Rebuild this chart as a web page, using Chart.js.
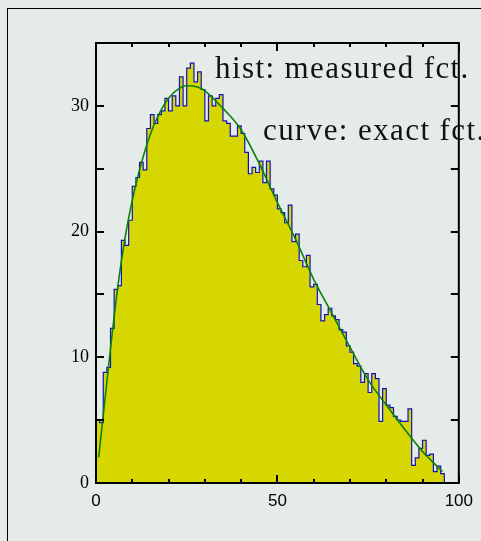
<!DOCTYPE html>
<html>
<head>
<meta charset="utf-8">
<script src="https://cdn.jsdelivr.net/npm/chart.js@4.4.0/dist/chart.umd.min.js"></script>
<style>
  html, body { margin: 0; padding: 0; background: #e4ebe9; overflow: hidden; }
  #wrap { position: relative; width: 481px; height: 541px; }
</style>
</head>
<body>
<div id="wrap"><canvas id="chart" width="481" height="541"></canvas></div>
<script>
// --- Data ---
const binStart = 0;
const binWidth = 1;
// measured histogram, one value per bin (bins 96..99 are empty)
const counts = [
  5.0, 4.8, 8.8, 9.2, 12.3, 15.4, 15.7, 19.3, 18.9, 20.9,
  23.6, 24.3, 25.5, 24.9, 28.2, 29.3, 28.6, 29.3, 29.6, 30.6,
  29.6, 30.8, 30.0, 32.3, 30.0, 33.0, 33.4, 31.9, 32.7, 31.3,
  28.8, 30.8, 30.0, 30.6, 30.9, 28.8, 28.6, 27.6, 27.6, 28.4,
  27.8, 26.3, 24.6, 25.1, 24.7, 25.6, 23.9, 25.6, 23.4, 22.9,
  21.8, 21.5, 20.7, 22.1, 19.2, 19.8, 17.7, 17.2, 18.1, 15.6,
  15.8, 14.2, 12.9, 13.4, 13.9, 13.3, 13.0, 12.2, 12.0, 10.9,
  10.4, 9.5, 9.3, 8.0, 8.7, 7.2, 8.7, 8.3, 4.9, 7.5,
  6.2, 6.0, 5.3, 5.0, 4.9, 4.9, 5.9, 1.4, 2.0, 2.75,
  3.4, 2.2, 2.3, 0.9, 1.35, 0.75
];
// exact function, sampled
const curveX = [0.75, 2, 4, 6, 8, 10, 12, 14, 16, 18, 20, 22, 25, 28, 30, 35, 40, 45, 50, 55, 60, 65, 70, 75, 80, 85, 90, 95.5];
const curveY = [2.05, 5.4, 10.7, 15.6, 19.5, 22.5, 24.9, 26.9, 28.5, 29.7, 30.6, 31.2, 31.6, 31.5, 31.2, 29.8, 28.1, 25.4, 22.3, 19.4, 16.2, 13.5, 10.8, 8.2, 6.2, 4.3, 2.5, 0.9];

const xTickLabels = [0, 50, 100];
const yTickLabels = [0, 10, 20, 30];
const notes = ['hist: measured fct.', 'curve: exact fct.'];

// --- Build datasets ---
// each point is a bin's low edge; the step holds its value until the next edge
const histPoints = counts.map((v, i) => ({ x: binStart + i * binWidth, y: v }));
// close the last bin down to zero
histPoints.push({ x: binStart + counts.length * binWidth, y: 0 });
const curvePoints = curveX.map((x, i) => ({ x: x, y: curveY[i] }));

// --- Frame, ticks and text (ROOT look) ---
const framePlugin = {
    id: 'frame',
    afterDatasetsDraw(chart) {
        const { ctx, chartArea: a, scales: { x, y } } = chart;
        ctx.save();
        ctx.strokeStyle = '#000';
        ctx.lineWidth = 2;
        ctx.strokeRect(a.left, a.top, a.right - a.left, a.bottom - a.top);

        // inward ticks
        ctx.beginPath();
        for (let v = x.min; v <= x.max; v += 10) {
            const px = Math.round(x.getPixelForValue(v));
            const len = xTickLabels.includes(v) ? 8 : 4;
            ctx.moveTo(px, a.bottom); ctx.lineTo(px, a.bottom - len);
            ctx.moveTo(px, a.top); ctx.lineTo(px, a.top + len);
        }
        for (let v = y.min; v <= y.max; v += 5) {
            const py = Math.round(y.getPixelForValue(v));
            ctx.moveTo(a.left, py); ctx.lineTo(a.left + 8, py);
            ctx.moveTo(a.right, py); ctx.lineTo(a.right - 8, py);
        }
        ctx.stroke();

        // pad border
        ctx.lineWidth = 1;
        ctx.strokeRect(7.5, 8.5, 600, 600);

        // notes
        ctx.fillStyle = '#111';
        ctx.font = '31px "Liberation Serif"';
        ctx.letterSpacing = '1.4px';
        ctx.textBaseline = 'alphabetic';
        ctx.fillText(notes[0], 215, 78);
        ctx.fillText(notes[1], 263, 140);
        ctx.restore();
    }
};

const bgPlugin = {
    id: 'bg',
    beforeDraw(chart) {
        const { ctx, width, height } = chart;
        ctx.save();
        ctx.fillStyle = '#e4ebe9';
        ctx.fillRect(0, 0, width, height);
        ctx.restore();
    }
};

new Chart(document.getElementById('chart'), {
    type: 'line',
    data: {
        datasets: [
            {
                label: 'exact',
                data: curvePoints,
                borderColor: '#0a820a',
                borderWidth: 1.6,
                pointRadius: 0,
                cubicInterpolationMode: 'monotone',
                fill: false,
                order: 1
            },
            {
                label: 'measured',
                data: histPoints,
                stepped: 'before',
                borderColor: '#1010c0',
                borderWidth: 1.2,
                backgroundColor: '#d6d600',
                pointRadius: 0,
                fill: 'origin',
                order: 2
            }
        ]
    },
    options: {
        responsive: false,
        animation: false,
        layout: { padding: { top: 43, right: 20, left: 0, bottom: 0 } },
        plugins: { legend: { display: false }, tooltip: { enabled: false } },
        scales: {
            x: {
                type: 'linear',
                min: 0,
                max: 100,
                afterFit: s => { s.height = 58; },
                grid: { display: false, drawTicks: false },
                border: { display: false },
                afterBuildTicks: s => { s.ticks = xTickLabels.map(v => ({ value: v })); },
                ticks: {
                    includeBounds: false,
                    maxRotation: 0,
                    autoSkip: false,
                    padding: 8,
                    color: '#000',
                    font: { family: 'Liberation Sans', size: 17 }
                }
            },
            y: {
                min: 0,
                max: 35,
                afterFit: s => { s.width = 96; },
                grid: { display: false, drawTicks: false },
                border: { display: false },
                afterBuildTicks: s => { s.ticks = yTickLabels.map(v => ({ value: v })); },
                ticks: {
                    includeBounds: false,
                    padding: 7,
                    color: '#000',
                    font: { family: 'Liberation Serif', size: 18 }
                }
            }
        }
    },
    plugins: [bgPlugin, framePlugin]
});
</script>
</body>
</html>
